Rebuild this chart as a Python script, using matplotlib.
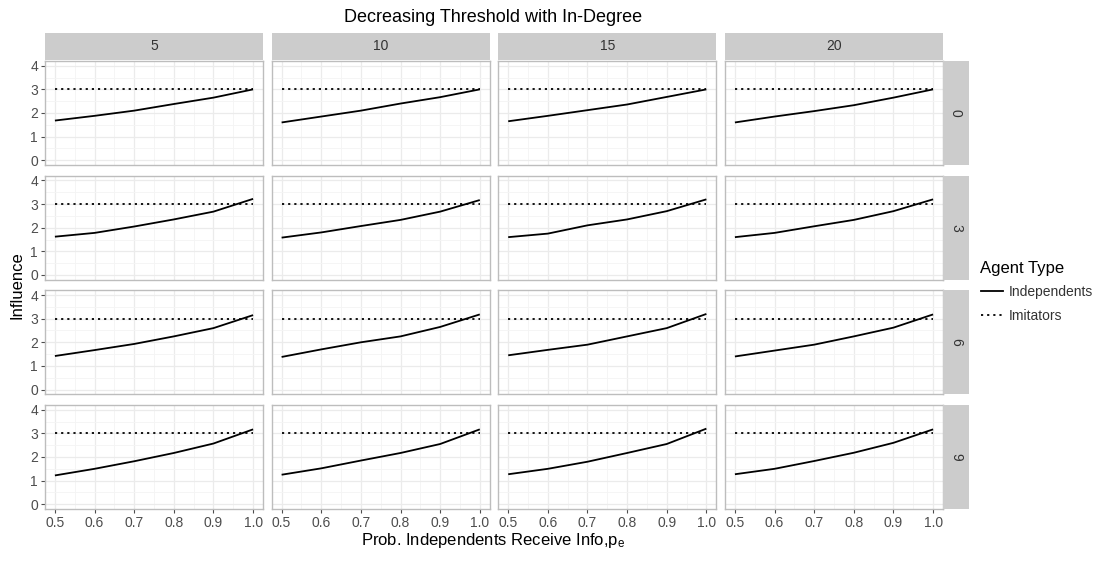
import matplotlib
matplotlib.use("Agg")
import matplotlib.pyplot as plt
from matplotlib.lines import Line2D

plt.rcParams["font.family"] = ["Liberation Sans", "DejaVu Sans"]

# data
pe = [0.5, 0.6, 0.7, 0.8, 0.9, 1.0]
in_degree = ["5", "10", "15", "20"]
threshold = ["0", "3", "6", "9"]
independents = {
    ("0", "5"): [1.68, 1.88, 2.10, 2.38, 2.65, 3.00],
    ("0", "10"): [1.60, 1.85, 2.10, 2.40, 2.67, 3.00],
    ("0", "15"): [1.65, 1.88, 2.12, 2.36, 2.68, 3.00],
    ("0", "20"): [1.60, 1.85, 2.08, 2.33, 2.65, 3.00],
    ("3", "5"): [1.62, 1.78, 2.05, 2.35, 2.68, 3.22],
    ("3", "10"): [1.58, 1.80, 2.07, 2.33, 2.68, 3.17],
    ("3", "15"): [1.60, 1.75, 2.10, 2.35, 2.70, 3.20],
    ("3", "20"): [1.60, 1.78, 2.06, 2.33, 2.70, 3.20],
    ("6", "5"): [1.42, 1.67, 1.93, 2.25, 2.60, 3.15],
    ("6", "10"): [1.38, 1.70, 2.00, 2.25, 2.65, 3.18],
    ("6", "15"): [1.45, 1.68, 1.90, 2.25, 2.60, 3.20],
    ("6", "20"): [1.40, 1.65, 1.90, 2.25, 2.62, 3.18],
    ("9", "5"): [1.22, 1.50, 1.82, 2.17, 2.57, 3.17],
    ("9", "10"): [1.25, 1.52, 1.85, 2.17, 2.55, 3.17],
    ("9", "15"): [1.27, 1.50, 1.80, 2.17, 2.55, 3.20],
    ("9", "20"): [1.27, 1.50, 1.83, 2.18, 2.60, 3.17],
}
imitators = [3.0, 3.0, 3.0, 3.0, 3.0, 3.0]

W, H = 1102, 561
fig = plt.figure(figsize=(W / 100, H / 100), dpi=100)


def px_axes(x0, y0, w, h):
    # pixel box (top-left origin) -> figure axes
    return fig.add_axes([x0 / W, 1 - (y0 + h) / H, w / W, h / H])


col_left = [45, 271.7, 498.3, 725]
row_top = [61, 175.7, 290.3, 405]
pw, ph = 218, 104
strip_col = "#cccccc"
border_col = "#bdbdbd"
text_col = "#4d4d4d"

for i, th in enumerate(threshold):
    for j, deg in enumerate(in_degree):
        ax = px_axes(col_left[j], row_top[i], pw, ph)
        ax.plot(pe, independents[(th, deg)], color="black", lw=1.3, solid_capstyle="butt")
        ax.plot(pe, imitators, color="black", lw=1.3, linestyle=(0, (1.2, 2.2)))
        ax.set_xlim(0.475, 1.025)
        ax.set_ylim(-0.2, 4.2)
        ax.set_xticks(pe)
        ax.set_yticks([0, 1, 2, 3, 4])
        ax.set_xticks([0.55, 0.65, 0.75, 0.85, 0.95], minor=True)
        ax.set_yticks([0.5, 1.5, 2.5, 3.5], minor=True)
        ax.grid(True, which="major", color="#ebebeb", lw=0.9)
        ax.grid(True, which="minor", color="#f4f4f4", lw=0.6)
        ax.set_axisbelow(True)
        for s in ax.spines.values():
            s.set_color(border_col)
            s.set_linewidth(1.0)
        ax.tick_params(which="major", length=3, color="#4d4d4d", labelsize=10,
                       labelcolor=text_col, pad=2)
        ax.tick_params(which="minor", length=0)
        if i < 3:
            ax.tick_params(axis="x", which="major", length=0, labelbottom=False)
        else:
            ax.set_xticklabels(["0.5", "0.6", "0.7", "0.8", "0.9", "1.0"])
        if j > 0:
            ax.tick_params(axis="y", which="major", length=0, labelleft=False)

        if i == 0:
            sx = px_axes(col_left[j], 33, pw, 27)
            sx.set_facecolor(strip_col)
            sx.set_xticks([])
            sx.set_yticks([])
            for s in sx.spines.values():
                s.set_visible(False)
            sx.text(0.5, 0.5, deg, ha="center", va="center", fontsize=10,
                    color="#333333", transform=sx.transAxes)
        if j == 3:
            sy = px_axes(col_left[j] + pw, row_top[i], 26, ph)
            sy.set_facecolor(strip_col)
            sy.set_xticks([])
            sy.set_yticks([])
            for s in sy.spines.values():
                s.set_visible(False)
            sy.text(0.5, 0.5, th, ha="center", va="center", fontsize=10,
                    rotation=270, color="#333333", transform=sy.transAxes)

fig.text(493 / W, 1 - 17 / H, "Decreasing Threshold with In-Degree",
         ha="center", va="center", fontsize=13, color="black")
fig.text(17 / W, 1 - 285 / H, "Influence", ha="center", va="center",
         rotation=90, fontsize=12, color="black")
fig.text(493 / W, 1 - 540 / H, "Prob. Independents Receive Info,$\\mathregular{p_e}$",
         ha="center", va="center", fontsize=12, color="black")

handles = [Line2D([], [], color="black", lw=1.3),
           Line2D([], [], color="black", lw=1.3, linestyle=(0, (1.2, 2.2)))]
leg = fig.legend(handles, ["Independents", "Imitators"], title="Agent Type",
                 loc="upper left", bbox_to_anchor=(968 / W, 1 - 248 / H),
                 frameon=False, fontsize=10, title_fontsize=12,
                 handlelength=1.6, handletextpad=0.4, labelspacing=0.7,
                 alignment="left")
for t in leg.get_texts():
    t.set_color("#333333")

fig.savefig("out.png", dpi=100)
